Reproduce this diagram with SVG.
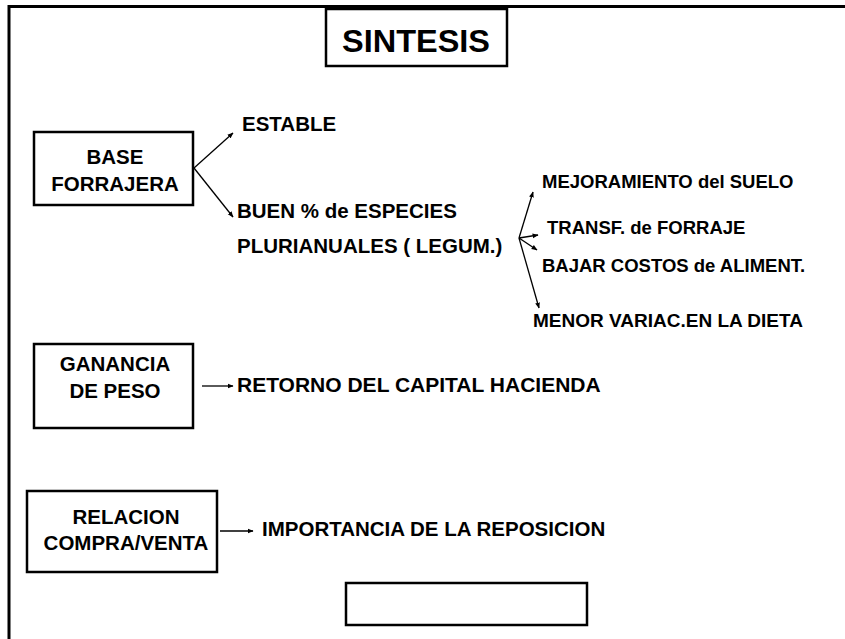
<svg xmlns="http://www.w3.org/2000/svg" width="845" height="639" viewBox="0 0 845 639">
<defs>
<marker id="ah" viewBox="0 0 10 10" refX="9" refY="5" markerWidth="6" markerHeight="6" markerUnits="userSpaceOnUse" orient="auto">
<path d="M0,1 L10,5 L0,9 z" fill="#000"/>
</marker>
<style>
.box{fill:#fff;stroke:#000;stroke-width:2.5}
.t{font-family:"Liberation Sans",Arial,sans-serif;font-weight:bold;fill:#000}
.b{font-size:20.5px;text-anchor:middle}
.r{font-size:20.5px}
.s{font-size:18.5px}
.c{stroke:#000;stroke-width:1.3;fill:none;marker-end:url(#ah)}
</style>
</defs>
<rect width="845" height="639" fill="#fff"/>
<path d="M9,639 V6.5 H845" fill="none" stroke="#000" stroke-width="3"/>
<g id="title">
<rect class="box" x="326" y="9" width="181" height="57"/>
<text class="t" x="416" y="52" style="font-size:32px" text-anchor="middle" textLength="148" lengthAdjust="spacingAndGlyphs">SINTESIS</text>
</g>
<g id="base">
<rect class="box" x="34" y="132" width="159" height="73"/>
<text class="t b" x="115" y="164">BASE</text>
<text class="t b" x="115" y="191">FORRAJERA</text>
</g>
<g id="estable"><text class="t r" x="242" y="131">ESTABLE</text></g>
<g id="buen">
<text class="t r" x="237" y="218">BUEN % de ESPECIES</text>
<text class="t r" x="237" y="253">PLURIANUALES ( LEGUM.)</text>
</g>
<g id="mejoramiento"><text class="t s" x="542" y="188">MEJORAMIENTO del SUELO</text></g>
<g id="transf"><text class="t s" x="547" y="234">TRANSF. de FORRAJE</text></g>
<g id="bajar"><text class="t s" x="542" y="272">BAJAR COSTOS de ALIMENT.</text></g>
<g id="menor"><text class="t" x="533" y="327" style="font-size:19px">MENOR VARIAC.EN LA DIETA</text></g>
<g id="ganancia">
<rect class="box" x="34" y="344" width="159" height="84"/>
<text class="t b" x="115" y="371">GANANCIA</text>
<text class="t b" x="115" y="398">DE PESO</text>
</g>
<g id="retorno"><text class="t" x="237" y="392" style="font-size:21px">RETORNO DEL CAPITAL HACIENDA</text></g>
<g id="relacion">
<rect class="box" x="27" y="491" width="190" height="81"/>
<text class="t b" x="126" y="524">RELACION</text>
<text class="t b" x="126" y="550">COMPRA/VENTA</text>
</g>
<g id="importancia"><text class="t r" x="262" y="536">IMPORTANCIA DE LA REPOSICION</text></g>
<g id="empty"><rect class="box" x="346" y="583" width="241" height="42"/></g>
<g id="connectors">
<line class="c" x1="194" y1="168" x2="233" y2="133"/>
<line class="c" x1="194" y1="168" x2="233" y2="217"/>
<line class="c" x1="519" y1="238" x2="533" y2="192"/>
<line class="c" x1="519" y1="238" x2="538" y2="235"/>
<line class="c" x1="519" y1="238" x2="537" y2="250"/>
<line class="c" x1="519" y1="238" x2="539" y2="308"/>
<line class="c" x1="202" y1="386" x2="233" y2="386"/>
<line class="c" x1="220" y1="531" x2="253" y2="531"/>
</g>
</svg>
